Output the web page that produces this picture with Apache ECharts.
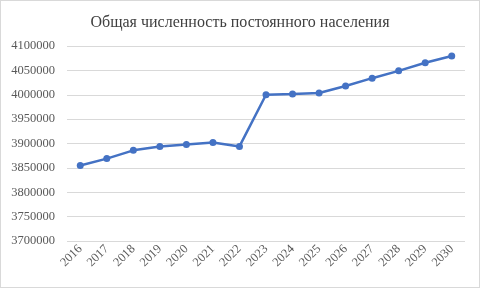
<!DOCTYPE html>
<html><head><meta charset="utf-8">
<script src="https://cdn.jsdelivr.net/npm/echarts@6/dist/echarts.min.js"></script>
<style>html,body{margin:0;padding:0;background:#fff}#c{width:480px;height:288px;box-sizing:border-box;border:1px solid #d9d9d9}</style>
</head><body><div id="c"></div>
<script>
var years = ['2016','2017','2018','2019','2020','2021','2022','2023','2024','2025','2026','2027','2028','2029','2030'];
var population = [3855000,3869000,3886000,3894000,3898000,3902000,3894000,4000000,4001500,4003500,4018000,4034000,4049000,4065500,4079500];
var chart = echarts.init(document.getElementById('c'));
chart.setOption({
  animation:false,
  title:{text:'Общая численность постоянного населения',left:'center',top:9,
    textStyle:{fontFamily:'Liberation Serif',fontSize:16,fontWeight:'normal',color:'#404040'}},
  grid:{left:66,right:14,top:45,bottom:46},
  xAxis:{type:'category',data:years,boundaryGap:true,
    axisLine:{show:false},axisTick:{show:false},
    axisLabel:{rotate:45,fontFamily:'Liberation Serif',fontSize:12.5,color:'#595959',margin:6}},
  yAxis:{type:'value',min:3700000,max:4100000,interval:50000,
    axisLine:{show:false},axisTick:{show:false},
    splitLine:{lineStyle:{color:'#d9d9d9',width:1}},
    axisLabel:{fontFamily:'Liberation Serif',fontSize:12.5,color:'#595959',margin:12,
      formatter:function(v){return String(v);}}},
  series:[{type:'line',data:population,symbol:'circle',symbolSize:7,
    lineStyle:{color:'#4472C4',width:2.5},itemStyle:{color:'#4472C4'}}]
});
</script></body></html>
